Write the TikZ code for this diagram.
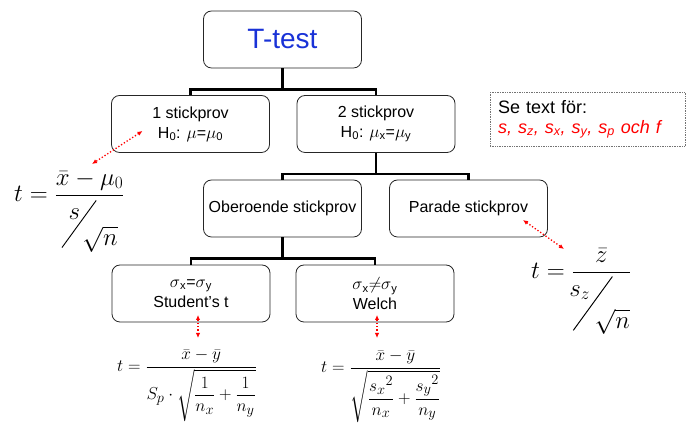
\documentclass[tikz,border=0pt]{standalone}
\usepackage{amsmath}
\usepackage{graphicx}
\usepackage{fontspec}
\setsansfont{Liberation Sans}
\usetikzlibrary{arrows.meta}
\definecolor{ttblue}{RGB}{25,50,215}
\newcommand{\slfrac}[5][0.3em]{\mbox{\rlap{\hspace{#1}$#4$}\rlap{\raisebox{-#3}{\rotatebox{54}{\rule{#2}{0.04em}}}}\hspace{0.9em}\raisebox{-\dimexpr#3-0.08em\relax}{$#5$}}}
\tikzset{
    box/.style={draw=black!85, line width=0.8pt, rounded corners=8pt, minimum width=158pt, minimum height=57pt, align=center, font=\sffamily\fontsize{16}{20}\selectfont},
    tree/.style={line width=2.4pt},
    hint/.style={red, dotted, line width=1.3pt, {Latex[length=5pt,width=4.5pt]}-{Latex[length=5pt,width=4.5pt]}},
    formula/.style={anchor=base west, inner sep=0pt},
    notebox/.style={draw=black!55, densely dotted, line width=0.7pt, minimum width=195pt, minimum height=53pt, text width=179pt, inner sep=8pt, align=left, font=\sffamily\fontsize{18}{20}\selectfont},
}
\begin{document}
\begin{tikzpicture}[x=1pt,y=1pt]
\useasboundingbox (0,0) rectangle (694,433);
\node[box, font=\sffamily\fontsize{28}{32}\selectfont, text=ttblue] (ttest) at (282.5,393.5) {T-test};
\node[box] (one) at (190.5,309) {1 stickprov\\H\textsubscript{0}: $\mu$=$\mu$\textsubscript{0}};
\node[box] (two) at (376,309) {2 stickprov\\H\textsubscript{0}: $\mu$\textsubscript{x}=$\mu$\textsubscript{y}};
\node[box] (ober) at (282.5,224.5) {Oberoende stickprov};
\node[box] (parade) at (468.5,224.5) {Parade stickprov};
\node[box] (student) at (191,139.5) {$\sigma$\textsubscript{x}=$\sigma$\textsubscript{y}\\Student’s t};
\node[box] (welch) at (375,139.5) {$\sigma$\textsubscript{x}$\neq$$\sigma$\textsubscript{y}\\Welch};
\node[notebox] (note) at (587.5,313.5) {Se text för:\\\textcolor{red}{\textit{s, s\textsubscript{z}, s\textsubscript{x}, s\textsubscript{y}, s\textsubscript{p} och f}}};

\coordinate (j1) at ([yshift=-21pt]ttest.south);
\coordinate (j2) at ([yshift=-21pt]two.south);
\coordinate (j3) at ([yshift=-21pt]ober.south);
\draw[tree] (ttest.south) -- (j1) -| (one.north);
\draw[tree] (j1) -| (two.north);
\draw[tree] (two.south) -- (j2) -| (ober.north);
\draw[tree] (j2) -| (parade.north);
\draw[tree] (ober.south) -- (j3) -| (student.north);
\draw[tree] (j3) -| (welch.north);

\node[formula, font=\fontsize{23}{27}\selectfont] (f1) at (14,231) {$t=\dfrac{\bar{x}-\mu_0}{\slfrac{2.53em}{1.25em}{s}{\sqrt{n}}}$};
\node[formula, font=\fontsize{24}{28}\selectfont] (f3) at (531,154) {$t=\dfrac{\bar{z}}{\slfrac[-0.15em]{2.77em}{1.44em}{s_z}{\sqrt{n}}}$};
\node[formula, font=\fontsize{19}{23}\selectfont] (f2) at (117,61.5) {$t=\dfrac{\bar{x}-\bar{y}}{S_p\cdot\sqrt{\dfrac{1}{n_x}+\dfrac{1}{n_y}}}$};
\node[formula, font=\fontsize{19}{23}\selectfont] (f4) at (321,60.5) {$t=\dfrac{\bar{x}-\bar{y}}{\sqrt{\dfrac{{s_x}^2}{n_x}+\dfrac{{s_y}^2}{n_y}}}$};

\coordinate (f1top) at (92,269);
\coordinate (f3top) at (564,184);
\coordinate (f2top) at (198,95);
\coordinate (f4top) at (377,95);
\draw[hint] ([shift={(-48,-7)}]one.center) -- (f1top);
\draw[hint] ([shift={(54.5,-11.5)}]parade.center) -- (f3top);
\draw[hint] ([shift={(7,-21.5)}]student.center) -- (f2top);
\draw[hint] ([shift={(2,-21.5)}]welch.center) -- (f4top);
\end{tikzpicture}
\end{document}
